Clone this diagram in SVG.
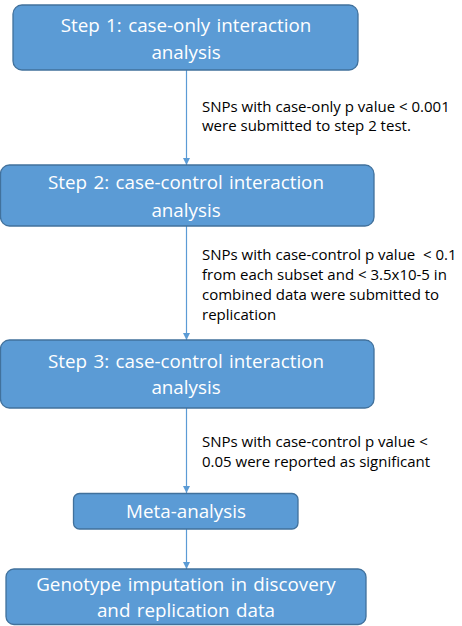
<svg xmlns="http://www.w3.org/2000/svg" width="462" height="626" viewBox="0 0 462 626">
<defs>
<style>
.box{fill:#5B9BD5;stroke:#41719C;stroke-width:1.3}
.t{font-family:"Open Sans","Liberation Sans",Arial,sans-serif;font-size:18.8px;fill:#FFFFFF;text-anchor:middle;word-spacing:1.5px}
.l{font-family:"Open Sans","Liberation Sans",Arial,sans-serif;font-size:15px;fill:#000000}
.c{stroke:#5B9BD5;stroke-width:1.2;fill:none;marker-end:url(#ah)}
</style>
<marker id="ah" viewBox="0 0 10 10" refX="10" refY="5" markerWidth="7" markerHeight="7" markerUnits="userSpaceOnUse" orient="auto">
<path d="M0,0 L10,5 L0,10 z" fill="#5B9BD5"/>
</marker>
</defs>
<rect width="462" height="626" fill="#FFFFFF"/>
<g id="connectors">
<line class="c" x1="186.5" y1="70" x2="186.5" y2="165"/>
<line class="c" x1="186.5" y1="226" x2="186.5" y2="340"/>
<line class="c" x1="186.5" y1="408" x2="186.5" y2="493"/>
<line class="c" x1="186.5" y1="529" x2="186.5" y2="569"/>
</g>
<g id="step1">
<rect class="box" x="13" y="5" width="345" height="65" rx="9"/>
<text class="t" x="186" y="32">Step 1: case-only interaction</text>
<text class="t" x="186" y="59">analysis</text>
</g>
<g id="label1">
<text class="l" x="202" y="112">SNPs with case-only p value &lt; 0.001</text>
<text class="l" x="202" y="131">were submitted to step 2 test.</text>
</g>
<g id="step2">
<rect class="box" x="0.5" y="165" width="373.5" height="61" rx="9"/>
<text class="t" x="186" y="189">Step 2: case-control interaction</text>
<text class="t" x="186" y="217">analysis</text>
</g>
<g id="label2">
<text class="l" x="202" y="260" xml:space="preserve">SNPs with case-control p value  &lt; 0.1</text>
<text class="l" x="202" y="280">from each subset and &lt; 3.5x10-5 in</text>
<text class="l" x="202" y="300">combined data were submitted to</text>
<text class="l" x="202" y="320">replication</text>
</g>
<g id="step3">
<rect class="box" x="0.5" y="340" width="373.5" height="68" rx="9"/>
<text class="t" x="186" y="368">Step 3: case-control interaction</text>
<text class="t" x="186" y="394">analysis</text>
</g>
<g id="label3">
<text class="l" x="202" y="447">SNPs with case-control p value &lt;</text>
<text class="l" x="202" y="467">0.05 were reported as significant</text>
</g>
<g id="meta">
<rect class="box" x="73.5" y="493.5" width="224.5" height="35.5" rx="6"/>
<text class="t" x="186" y="518">Meta-analysis</text>
</g>
<g id="imputation">
<rect class="box" x="6" y="569" width="360" height="55.5" rx="8"/>
<text class="t" x="186" y="591">Genotype imputation in discovery</text>
<text class="t" x="186" y="617">and replication data</text>
</g>
</svg>
